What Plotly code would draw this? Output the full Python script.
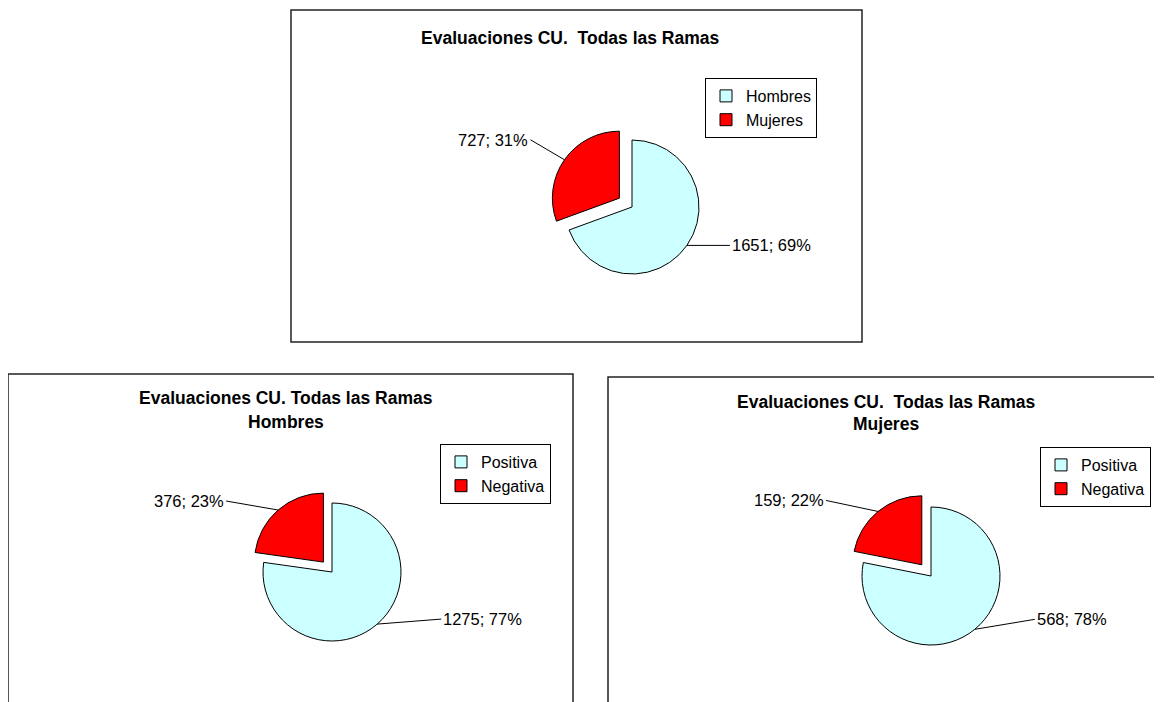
import math
import plotly.graph_objects as go

# ---- data ----
todas_labels = ["Hombres", "Mujeres"]
todas_values = [1651, 727]

hombres_labels = ["Positiva", "Negativa"]
hombres_values = [1275, 376]

mujeres_labels = ["Positiva", "Negativa"]
mujeres_values = [568, 159]

W, H = 1162, 702
OFF = 8  # page body margin, the figure is drawn 8px in from the window corner
FONT = "Liberation Sans, Arial, sans-serif"
COLORS = ["#CCFFFF", "#FF0000"]


def px(x):
    return (x - OFF) / W


def py(y):
    return 1 - (y - OFF) / H


# layout of each chart (window pixels): pie centre, radius, pull, legend, title, label offsets
charts = [
    dict(labels=todas_labels, values=todas_values, legend="legend",
         cx=632, cy=207, r=67, pull=[0, 0.23],
         box=(291, 10, 862, 342),
         title=["Evaluaciones CU.  Todas las Ramas"], title_x=570, title_y=[38],
         leg_x=705, leg_y=78,
         offsets=[(43, 0), (-34, -20)]),
    dict(labels=hombres_labels, values=hombres_values, legend="legend2",
         cx=332, cy=572, r=69, pull=[0, 0.19],
         box=(8, 374, 573, 730),
         title=["Evaluaciones CU. Todas las Ramas", "Hombres"], title_x=286, title_y=[398, 422],
         leg_x=440, leg_y=444,
         offsets=[(64, -5), (-52, -9)]),
    dict(labels=mujeres_labels, values=mujeres_values, legend="legend3",
         cx=931, cy=576, r=69, pull=[0, 0.21],
         box=(608, 377, 1190, 730),
         title=["Evaluaciones CU.  Todas las Ramas", "Mujeres"], title_x=886, title_y=[402, 424],
         leg_x=1040, leg_y=447,
         offsets=[(60, -10), (-52, -11)]),
]

fig = go.Figure()
annotations = []
shapes = []
legends = {}

for c in charts:
    half = c["r"] * (1 + max(c["pull"]))
    fig.add_trace(go.Pie(
        labels=c["labels"], values=c["values"],
        sort=False, direction="clockwise", rotation=0,
        pull=c["pull"],
        marker=dict(colors=COLORS, line=dict(color="black", width=1)),
        textinfo="none",
        domain=dict(x=[px(c["cx"] - half), px(c["cx"] + half)],
                    y=[py(c["cy"] + half), py(c["cy"] - half)]),
        legend=c["legend"],
        legendgroup=c["legend"],  # own group so same labels are not merged across pies
        hovertemplate="%{label}: %{value} (%{percent})<extra></extra>",
    ))

    # data labels with leader lines, placed from the slice geometry
    total = sum(c["values"])
    start = 0.0
    for i, v in enumerate(c["values"]):
        frac = v / total
        mid = (start + frac / 2) * 2 * math.pi
        start += frac
        dx, dy = math.sin(mid), -math.cos(mid)
        dist = c["r"] * (1 + c["pull"][i])
        ex = c["cx"] + dx * dist
        ey = c["cy"] + dy * dist
        ox, oy = c["offsets"][i]
        annotations.append(dict(
            x=px(ex), y=py(ey), xref="paper", yref="paper",
            ax=ox, ay=oy, showarrow=True, arrowhead=0, arrowwidth=1,
            arrowcolor="black", standoff=0,
            text="%d; %d%%" % (v, round(frac * 100)),
            xanchor="left" if dx > 0 else "right", yanchor="middle",
            font=dict(family=FONT, size=16.5, color="black"),
        ))

    for line, ty in zip(c["title"], c["title_y"]):
        annotations.append(dict(
            x=px(c["title_x"]), y=py(ty), xref="paper", yref="paper",
            text="<b>%s</b>" % line, showarrow=False,
            xanchor="center", yanchor="middle",
            font=dict(family=FONT, size=17.5, color="black"),
        ))

    x0, y0, x1, y1 = c["box"]
    shapes.append(dict(type="rect", xref="paper", yref="paper",
                       x0=px(x0), x1=px(x1), y0=py(y1), y1=py(y0),
                       line=dict(color="#222222", width=1.5)))

    legends[c["legend"]] = dict(
        x=px(c["leg_x"]), y=py(c["leg_y"]), xanchor="left", yanchor="top",
        bgcolor="white", bordercolor="black", borderwidth=1,
        font=dict(family=FONT, size=16, color="black"),
        itemwidth=30, traceorder="normal",
    )

fig.update_layout(
    width=W, height=H,
    margin=dict(l=0, r=0, t=0, b=0),
    paper_bgcolor="white", plot_bgcolor="white",
    font=dict(family=FONT),
    annotations=annotations,
    shapes=shapes,
    **legends,
)

fig.write_html("out.html")
